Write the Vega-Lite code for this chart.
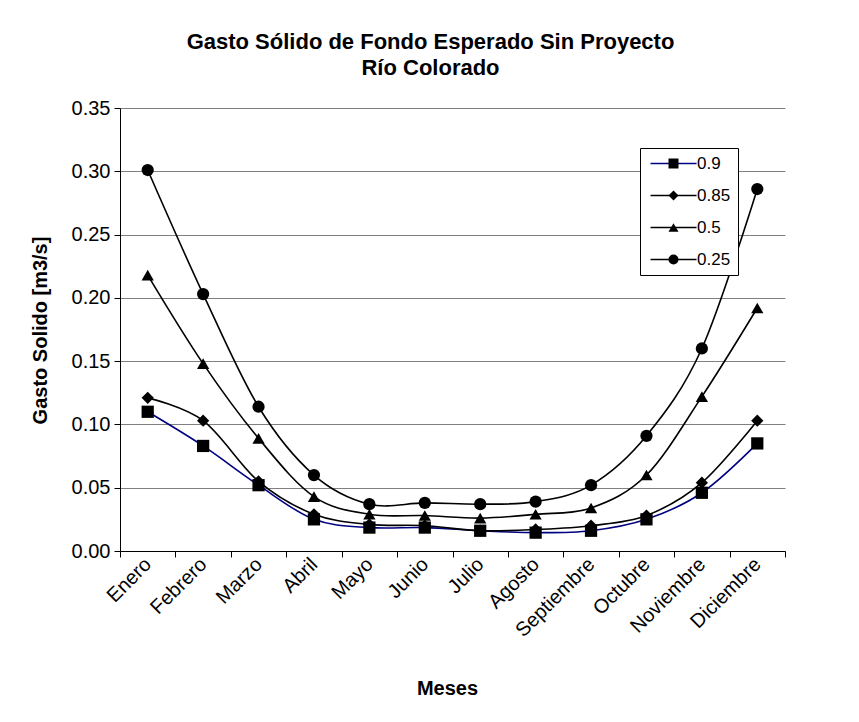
{
  "$schema": "https://vega.github.io/schema/vega-lite/v6.json",
  "width": 665,
  "height": 443,
  "autosize": {"type": "none"},
  "padding": {"left": 120, "top": 108, "right": 74, "bottom": 171},
  "background": "white",
  "title": {
    "text": ["Gasto Sólido de Fondo Esperado Sin Proyecto", "Río Colorado"],
    "font": "Liberation Sans",
    "fontSize": 22,
    "fontWeight": "bold",
    "lineHeight": 26,
    "anchor": "middle",
    "dx": -22,
    "offset": 18,
    "color": "black"
  },
  "data": {
    "values": [
      {"mes": "Enero", "serie": "0.9", "valor": 0.110},
      {"mes": "Febrero", "serie": "0.9", "valor": 0.083},
      {"mes": "Marzo", "serie": "0.9", "valor": 0.052},
      {"mes": "Abril", "serie": "0.9", "valor": 0.025},
      {"mes": "Mayo", "serie": "0.9", "valor": 0.0185},
      {"mes": "Junio", "serie": "0.9", "valor": 0.0185},
      {"mes": "Julio", "serie": "0.9", "valor": 0.016},
      {"mes": "Agosto", "serie": "0.9", "valor": 0.0145},
      {"mes": "Septiembre", "serie": "0.9", "valor": 0.016},
      {"mes": "Octubre", "serie": "0.9", "valor": 0.025},
      {"mes": "Noviembre", "serie": "0.9", "valor": 0.046},
      {"mes": "Diciembre", "serie": "0.9", "valor": 0.085},
      {"mes": "Enero", "serie": "0.85", "valor": 0.121},
      {"mes": "Febrero", "serie": "0.85", "valor": 0.103},
      {"mes": "Marzo", "serie": "0.85", "valor": 0.055},
      {"mes": "Abril", "serie": "0.85", "valor": 0.029},
      {"mes": "Mayo", "serie": "0.85", "valor": 0.021},
      {"mes": "Junio", "serie": "0.85", "valor": 0.020},
      {"mes": "Julio", "serie": "0.85", "valor": 0.016},
      {"mes": "Agosto", "serie": "0.85", "valor": 0.017},
      {"mes": "Septiembre", "serie": "0.85", "valor": 0.020},
      {"mes": "Octubre", "serie": "0.85", "valor": 0.028},
      {"mes": "Noviembre", "serie": "0.85", "valor": 0.054},
      {"mes": "Diciembre", "serie": "0.85", "valor": 0.103},
      {"mes": "Enero", "serie": "0.5", "valor": 0.218},
      {"mes": "Febrero", "serie": "0.5", "valor": 0.148},
      {"mes": "Marzo", "serie": "0.5", "valor": 0.089},
      {"mes": "Abril", "serie": "0.5", "valor": 0.043},
      {"mes": "Mayo", "serie": "0.5", "valor": 0.029},
      {"mes": "Junio", "serie": "0.5", "valor": 0.028},
      {"mes": "Julio", "serie": "0.5", "valor": 0.026},
      {"mes": "Agosto", "serie": "0.5", "valor": 0.029},
      {"mes": "Septiembre", "serie": "0.5", "valor": 0.034},
      {"mes": "Octubre", "serie": "0.5", "valor": 0.060},
      {"mes": "Noviembre", "serie": "0.5", "valor": 0.122},
      {"mes": "Diciembre", "serie": "0.5", "valor": 0.192},
      {"mes": "Enero", "serie": "0.25", "valor": 0.301},
      {"mes": "Febrero", "serie": "0.25", "valor": 0.203},
      {"mes": "Marzo", "serie": "0.25", "valor": 0.114},
      {"mes": "Abril", "serie": "0.25", "valor": 0.060},
      {"mes": "Mayo", "serie": "0.25", "valor": 0.037},
      {"mes": "Junio", "serie": "0.25", "valor": 0.038},
      {"mes": "Julio", "serie": "0.25", "valor": 0.037},
      {"mes": "Agosto", "serie": "0.25", "valor": 0.039},
      {"mes": "Septiembre", "serie": "0.25", "valor": 0.052},
      {"mes": "Octubre", "serie": "0.25", "valor": 0.091},
      {"mes": "Noviembre", "serie": "0.25", "valor": 0.160},
      {"mes": "Diciembre", "serie": "0.25", "valor": 0.286}
    ]
  },
  "encoding": {
    "x": {
      "field": "mes",
      "type": "nominal",
      "sort": ["Enero", "Febrero", "Marzo", "Abril", "Mayo", "Junio", "Julio", "Agosto", "Septiembre", "Octubre", "Noviembre", "Diciembre"],
      "scale": {"type": "band", "paddingInner": 0, "paddingOuter": 0},
      "axis": {
        "title": "Meses",
        "titleFont": "Liberation Sans",
        "titleFontSize": 20,
        "titleFontWeight": "bold",
        "titleColor": "black",
        "titleX": 327,
        "titleY": 137,
        "titleAlign": "center",
        "titleBaseline": "middle",
        "labelAngle": -45,
        "labelAlign": "right",
        "labelBaseline": "middle",
        "labelFont": "Liberation Sans",
        "labelFontSize": 20,
        "labelColor": "black",
        "labelPadding": 4,
        "tickSize": 6,
        "tickBand": "extent",
        "tickColor": "black",
        "domainColor": "black",
        "grid": false
      }
    },
    "y": {
      "field": "valor",
      "type": "quantitative",
      "scale": {"domain": [0, 0.35], "nice": false},
      "axis": {
        "title": "Gasto Solido [m3/s]",
        "titleFont": "Liberation Sans",
        "titleFontSize": 20,
        "titleFontWeight": "bold",
        "titleColor": "black",
        "titleAngle": -90,
        "titleX": -80,
        "titleY": 222,
        "titleAlign": "center",
        "titleBaseline": "middle",
        "values": [0, 0.05, 0.1, 0.15, 0.2, 0.25, 0.3, 0.35],
        "format": ".2f",
        "labelFont": "Liberation Sans",
        "labelFontSize": 20,
        "labelColor": "black",
        "labelPadding": 4,
        "tickSize": 6,
        "tickColor": "black",
        "domainColor": "black",
        "grid": true,
        "gridColor": "#808080",
        "gridWidth": 1.2
      }
    }
  },
  "layer": [
    {
      "mark": {"type": "line", "interpolate": "cardinal", "strokeWidth": 1.6},
      "encoding": {
        "stroke": {
          "field": "serie",
          "type": "nominal",
          "scale": {"domain": ["0.9", "0.85", "0.5", "0.25"], "range": ["#000080", "black", "black", "black"]},
          "legend": {
            "title": null,
            "orient": "none",
            "legendX": 520,
            "legendY": 40,
            "padding": 7,
            "strokeColor": "black",
            "fillColor": "white",
            "labelFont": "Liberation Sans",
            "labelFontSize": 17,
            "labelColor": "black",
            "symbolType": "M-4.6,0H4.6",
            "symbolSize": 100,
            "symbolOffset": 18,
            "labelOffset": 15,
            "rowPadding": 14,
            "symbolStrokeWidth": 1.6,
            "zindex": 1
          }
        }
      }
    },
    {
      "mark": {"type": "point", "filled": true, "opacity": 1, "color": "black", "size": 150},
      "encoding": {
        "shape": {
          "field": "serie",
          "type": "nominal",
          "scale": {
            "domain": ["0.9", "0.85", "0.5", "0.25", "ninguna"],
            "range": ["square", "diamond", "triangle-up", "circle", "circle"]
          },
          "legend": {
            "title": null,
            "values": ["0.9", "0.85", "0.5", "0.25"],
            "orient": "none",
            "legendX": 520,
            "legendY": 40,
            "padding": 7,
            "strokeColor": "transparent",
            "fillColor": "transparent",
            "labelFont": "Liberation Sans",
            "labelFontSize": 17,
            "labelOpacity": 0,
            "symbolSize": 100,
            "symbolOffset": 18,
            "labelOffset": 15,
            "rowPadding": 14,
            "symbolFillColor": "black",
            "symbolStrokeWidth": 1.6,
            "zindex": 2
          }
        }
      }
    }
  ],
  "config": {
    "view": {"stroke": null},
    "font": "Liberation Sans"
  }
}
